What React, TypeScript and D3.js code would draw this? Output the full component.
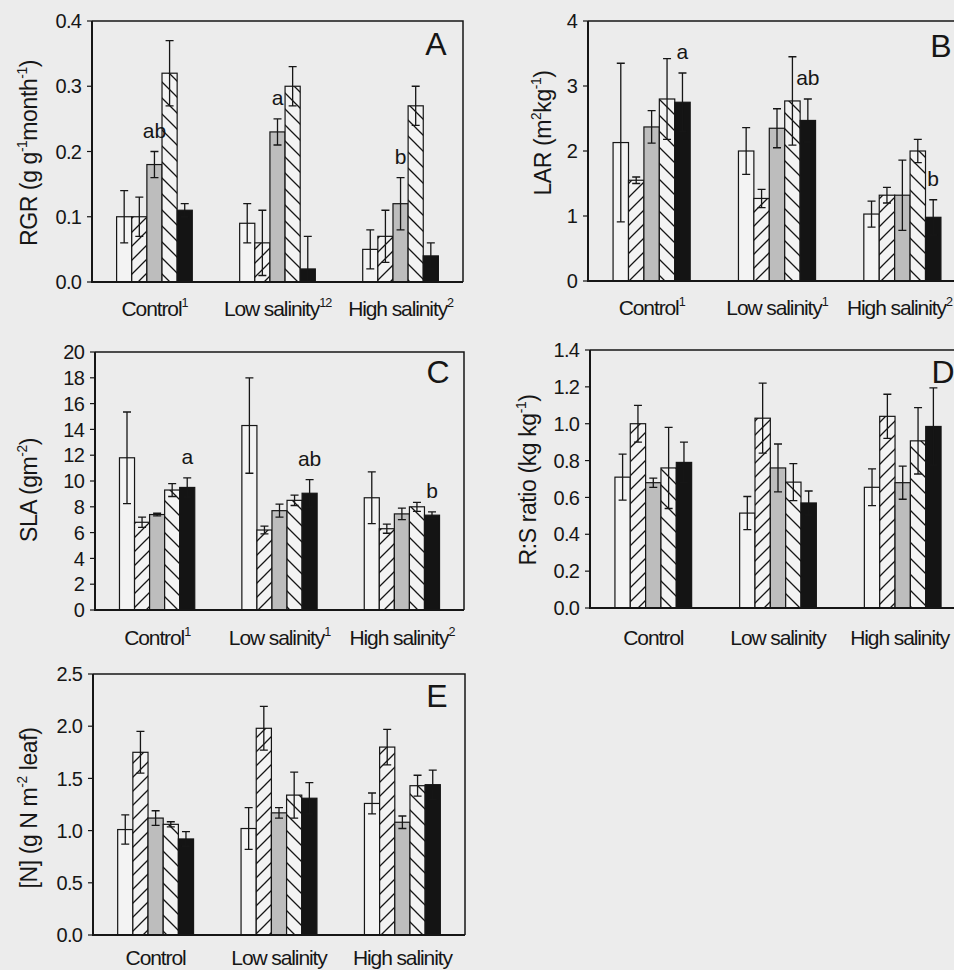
import { useRef, useEffect } from "react";
import * as d3 from "d3";

// treatment groups and the five bar types in each group
const groups = ["Control", "Low salinity", "High salinity"];
const seriesKeys = ["open", "fwd", "grey", "back", "solid"];

// A: relative growth rate
const rgrMean = [
  [0.1, 0.1, 0.18, 0.32, 0.11],
  [0.09, 0.06, 0.23, 0.3, 0.02],
  [0.05, 0.07, 0.12, 0.27, 0.04],
];
const rgrErr = [
  [0.04, 0.03, 0.02, 0.05, 0.01],
  [0.03, 0.05, 0.02, 0.03, 0.05],
  [0.03, 0.04, 0.04, 0.03, 0.02],
];
const rgrSup = ["1", "12", "2"];
const rgrLetters = [
  { group: 0, bar: 2, text: "ab" },
  { group: 1, bar: 2, text: "a" },
  { group: 2, bar: 2, text: "b" },
];

// B: leaf area ratio
const larMean = [
  [2.13, 1.55, 2.37, 2.8, 2.75],
  [2.0, 1.27, 2.35, 2.77, 2.47],
  [1.03, 1.32, 1.32, 2.0, 0.98],
];
const larErr = [
  [1.22, 0.05, 0.25, 0.62, 0.45],
  [0.36, 0.14, 0.3, 0.68, 0.33],
  [0.2, 0.12, 0.54, 0.18, 0.27],
];
const larSup = ["1", "1", "2"];
const larLetters = [
  { group: 0, bar: 4, text: "a" },
  { group: 1, bar: 4, text: "ab" },
  { group: 2, bar: 4, text: "b" },
];

// C: specific leaf area
const slaMean = [
  [11.8, 6.8, 7.4, 9.3, 9.5],
  [14.3, 6.2, 7.7, 8.5, 9.05],
  [8.7, 6.3, 7.45, 8.0, 7.35],
];
const slaErr = [
  [3.55, 0.4, 0.1, 0.5, 0.75],
  [3.7, 0.3, 0.5, 0.4, 1.05],
  [2.0, 0.35, 0.45, 0.35, 0.25],
];
const slaSup = ["1", "1", "2"];
const slaLetters = [
  { group: 0, bar: 4, text: "a" },
  { group: 1, bar: 4, text: "ab" },
  { group: 2, bar: 4, text: "b" },
];

// D: root:shoot ratio
const rsMean = [
  [0.71, 1.0, 0.68, 0.76, 0.79],
  [0.515, 1.03, 0.76, 0.683, 0.57],
  [0.655, 1.04, 0.68, 0.907, 0.985],
];
const rsErr = [
  [0.125, 0.1, 0.025, 0.22, 0.11],
  [0.09, 0.19, 0.13, 0.1, 0.065],
  [0.1, 0.12, 0.09, 0.18, 0.21],
];

// E: leaf nitrogen per area
const nMean = [
  [1.01, 1.75, 1.12, 1.06, 0.92],
  [1.02, 1.98, 1.17, 1.34, 1.31],
  [1.26, 1.8, 1.08, 1.43, 1.44],
];
const nErr = [
  [0.14, 0.2, 0.07, 0.025, 0.07],
  [0.2, 0.21, 0.05, 0.22, 0.15],
  [0.1, 0.17, 0.06, 0.1, 0.14],
];

type Seg = [string, boolean];
type Letter = { group: number; bar: number; text: string };

const panels = [
  {
    id: "A", mean: rgrMean, err: rgrErr, max: 0.4, nTicks: 4, fmt: ".1f",
    sup: rgrSup, letters: rgrLetters,
    title: [["RGR (g g", false], ["-1", true], ["month", false], ["-1", true], [")", false]] as Seg[],
    x0: 92, x1: 463, top: 21, bottom: 282, titleX: 37, titleY: 153, labelY: 316, idX: 436, idY: 55,
  },
  {
    id: "B", mean: larMean, err: larErr, max: 4, nTicks: 4, fmt: "d",
    sup: larSup, letters: larLetters,
    title: [["LAR (m", false], ["2", true], ["kg", false], ["-1", true], [")", false]] as Seg[],
    x0: 588, x1: 966, top: 21, bottom: 281, titleX: 551, titleY: 133, labelY: 315, idX: 941, idY: 57,
  },
  {
    id: "C", mean: slaMean, err: slaErr, max: 20, nTicks: 10, fmt: "d",
    sup: slaSup, letters: slaLetters,
    title: [["SLA (gm", false], ["-2", true], [")", false]] as Seg[],
    x0: 95, x1: 464, top: 352, bottom: 610, titleX: 37, titleY: 490, labelY: 645, idX: 438, idY: 383,
  },
  {
    id: "D", mean: rsMean, err: rsErr, max: 1.4, nTicks: 7, fmt: ".1f",
    sup: null, letters: [] as Letter[],
    title: [["R:S ratio (kg kg", false], ["-1", true], [")", false]] as Seg[],
    x0: 590, x1: 966, top: 350, bottom: 608, titleX: 536, titleY: 480, labelY: 645, idX: 943, idY: 383,
  },
  {
    id: "E", mean: nMean, err: nErr, max: 2.5, nTicks: 5, fmt: ".1f",
    sup: null, letters: [] as Letter[],
    title: [["[N] (g N m", false], ["-2", true], [" leaf)", false]] as Seg[],
    x0: 93, x1: 465, top: 674, bottom: 935, titleX: 37, titleY: 808, labelY: 965, idX: 437, idY: 707,
  },
];

const width = 954;
const height = 970;
const font = "'Liberation Sans', Arial, sans-serif";
const ink = "#161616";
const barFill: Record<string, string> = {
  open: "#f3f3f3",
  fwd: "url(#hatch-fwd)",
  grey: "#bdbdbd",
  back: "url(#hatch-back)",
  solid: "#141414",
};

function richText(
  sel: d3.Selection<SVGTextElement, unknown, null, undefined>,
  segs: Seg[],
  size: number
) {
  let shift = 0;
  for (const [t, sup] of segs) {
    const want = sup ? -size * 0.42 : 0;
    sel
      .append("tspan")
      .attr("dy", want - shift)
      .attr("font-size", sup ? size * 0.6 : size)
      .text(t);
    shift = want;
  }
}

export default function App() {
  const svgRef = useRef<SVGSVGElement>(null);

  useEffect(() => {
    if (!svgRef.current) return;
    const svg = d3.select(svgRef.current);
    svg.selectAll("*").remove();

    const defs = svg.append("defs");
    const fwd = defs
      .append("pattern")
      .attr("id", "hatch-fwd")
      .attr("patternUnits", "userSpaceOnUse")
      .attr("width", 14)
      .attr("height", 14);
    fwd.append("rect").attr("width", 14).attr("height", 14).attr("fill", "#f3f3f3");
    fwd
      .append("path")
      .attr("d", "M-4,4 L4,-4 M0,14 L14,0 M10,18 L18,10")
      .attr("stroke", ink)
      .attr("stroke-width", 1.3);
    const back = defs
      .append("pattern")
      .attr("id", "hatch-back")
      .attr("patternUnits", "userSpaceOnUse")
      .attr("width", 16)
      .attr("height", 16);
    back.append("rect").attr("width", 16).attr("height", 16).attr("fill", "#f3f3f3");
    back
      .append("path")
      .attr("d", "M-4,12 L4,20 M0,0 L16,16 M12,-4 L20,4")
      .attr("stroke", ink)
      .attr("stroke-width", 1.3);

    svg
      .append("rect")
      .attr("width", width)
      .attr("height", height)
      .attr("fill", "#ececec");

    for (const p of panels) {
      const g = svg.append("g").attr("font-family", font).attr("fill", ink);

      const y = d3.scaleLinear().domain([0, p.max]).range([p.bottom, p.top]);
      const xg = d3
        .scaleBand<string>()
        .domain(groups)
        .range([p.x0, p.x1])
        .paddingInner(0.385)
        .paddingOuter(0.2);
      const xs = d3
        .scaleBand<string>()
        .domain(seriesKeys)
        .range([0, xg.bandwidth()]);

      // frame top and right
      g.append("path")
        .attr("d", `M${p.x0},${p.top}H${p.x1}V${p.bottom}`)
        .attr("fill", "none")
        .attr("stroke", ink)
        .attr("stroke-width", 1.5);

      // bars
      groups.forEach((grp, gi) => {
        seriesKeys.forEach((s, si) => {
          const v = p.mean[gi][si];
          g.append("rect")
            .attr("x", xg(grp)! + xs(s)!)
            .attr("y", y(v))
            .attr("width", xs.bandwidth())
            .attr("height", y(0) - y(v))
            .attr("fill", barFill[s])
            .attr("stroke", ink)
            .attr("stroke-width", 1.2);
        });
      });

      // error bars
      groups.forEach((grp, gi) => {
        seriesKeys.forEach((s, si) => {
          const v = p.mean[gi][si];
          const e = p.err[gi][si];
          const cx = xg(grp)! + xs(s)! + xs.bandwidth() / 2;
          const lo = y(Math.max(0, v - e));
          const hi = y(v + e);
          g.append("path")
            .attr("d", `M${cx},${lo}V${hi}M${cx - 4},${hi}H${cx + 4}M${cx - 4},${lo}H${cx + 4}`)
            .attr("stroke", ink)
            .attr("stroke-width", 1.3)
            .attr("fill", "none");
        });
      });

      // axes
      g.append("path")
        .attr("d", `M${p.x0},${p.top}V${p.bottom}H${p.x1}`)
        .attr("fill", "none")
        .attr("stroke", ink)
        .attr("stroke-width", 2);

      const fmt = d3.format(p.fmt);
      for (const t of y.ticks(p.nTicks)) {
        g.append("line")
          .attr("x1", p.x0 - 5)
          .attr("x2", p.x0)
          .attr("y1", y(t))
          .attr("y2", y(t))
          .attr("stroke", ink)
          .attr("stroke-width", 1.2);
        g.append("text")
          .attr("x", p.x0 - 11)
          .attr("y", y(t))
          .attr("dy", "0.36em")
          .attr("text-anchor", "end")
          .attr("font-size", 20)
          .attr("letter-spacing", -0.8)
          .text(fmt(t));
      }

      // group labels
      groups.forEach((grp, gi) => {
        const t = g
          .append("text")
          .attr("x", xg(grp)! + xg.bandwidth() / 2 - (p.x1 > 900 && gi === 2 ? 3 : 0))
          .attr("y", p.labelY)
          .attr("text-anchor", "middle")
          .attr("letter-spacing", -1.1);
        const segs: Seg[] = [[grp, false]];
        if (p.sup) segs.push([p.sup[gi], true]);
        richText(t, segs, 21);
      });

      // significance letters
      for (const l of p.letters) {
        const v = p.mean[l.group][l.bar] + p.err[l.group][l.bar];
        g.append("text")
          .attr("x", xg(groups[l.group])! + xs(seriesKeys[l.bar])! + xs.bandwidth() / 2)
          .attr("y", y(v) - 14)
          .attr("text-anchor", "middle")
          .attr("font-size", 21)
          .text(l.text);
      }

      // y title
      const title = g
        .append("text")
        .attr("transform", `translate(${p.titleX},${p.titleY}) rotate(-90)`)
        .attr("text-anchor", "middle")
        .attr("letter-spacing", -0.4);
      richText(title, p.title, 23);

      // panel letter
      g.append("text")
        .attr("x", p.idX)
        .attr("y", p.idY)
        .attr("text-anchor", "middle")
        .attr("font-size", 32)
        .text(p.id);
    }
  }, []);

  return (
    <svg
      ref={svgRef}
      width={width}
      height={height}
      viewBox={`0 0 ${width} ${height}`}
      style={{ position: "absolute", left: 0, top: 0 }}
    />
  );
}
